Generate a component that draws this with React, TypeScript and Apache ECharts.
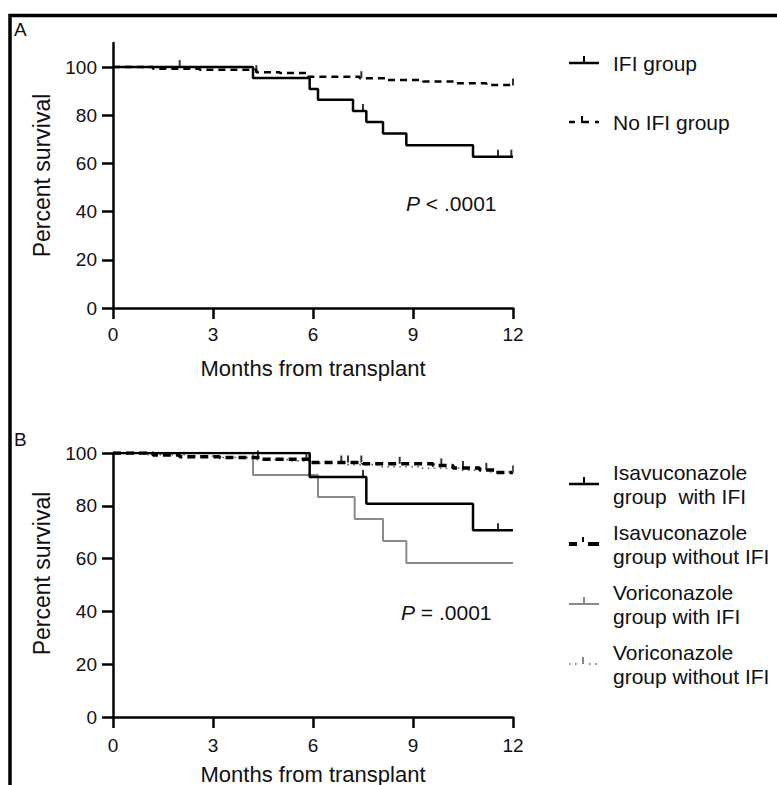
import React, { useEffect, useRef } from "react";
import * as echarts from "echarts";

// ---------- Data ----------
const monthTicks = [0, 3, 6, 9, 12];
const percentTicks = [0, 20, 40, 60, 80, 100];

// Panel A
const ifiA: number[][] = [
  [0, 100], [4.2, 95.5], [5.9, 90.9], [6.15, 86.4], [7.2, 81.8], [7.6, 77.2],
  [8.1, 72.4], [8.8, 67.6], [10.8, 62.8], [12, 62.8],
];
const noIfiA: number[][] = [
  [0, 100], [1.2, 99.3], [2.6, 98.9], [4.3, 97.9], [5.0, 97.5], [5.8, 96.0],
  [7.4, 95.4], [8.2, 94.6], [9.3, 94.0], [10.3, 93.3], [11.2, 92.6], [12, 92.4],
];
const ifiCensorA: number[][] = [[2.0, 100], [7.5, 81.8], [11.55, 62.8], [11.95, 62.8]];
const noIfiCensorA: number[][] = [[4.3, 97.9], [7.45, 95.4], [12, 92.4]];

// Panel B
const isaIfiB: number[][] = [[0, 100], [5.9, 90.9], [7.6, 80.8], [10.8, 70.7], [12, 70.7]];
const isaNoIfiB: number[][] = [
  [0, 100], [1.2, 99.2], [2.0, 98.6], [3.2, 98.3], [4.4, 97.6], [5.9, 96.4],
  [7.5, 95.9], [9.6, 95.3], [10.2, 94.3], [11.0, 93.6], [11.5, 92.6], [12, 92.6],
];
const voriIfiB: number[][] = [
  [0, 100], [4.2, 91.7], [6.15, 83.3], [7.25, 75.0], [8.1, 66.7], [8.8, 58.3], [12, 58.3],
];
const voriNoIfiB: number[][] = [
  [0, 100], [1.0, 99.4], [2.2, 98.8], [3.3, 98.3], [4.2, 97.5], [5.3, 97.0],
  [6.0, 96.2], [7.0, 95.6], [8.0, 94.8], [9.2, 94.2], [10.4, 93.5], [11.3, 92.8], [12, 92.4],
];
const isaIfiCensorB: number[][] = [[7.5, 90.9], [11.55, 70.7]];
const isaNoIfiCensorB: number[][] = [
  [4.35, 98.3], [5.8, 97.6], [6.85, 96.4], [7.05, 96.4], [7.45, 96.4],
  [8.6, 95.9], [9.85, 95.3], [10.5, 94.3], [11.2, 93.6], [12, 92.6],
];
const voriNoIfiCensorB: number[][] = [[12, 92.4]];

const legendA = ["IFI group", "No IFI group"];
const legendB = [
  ["Isavuconazole", "group  with IFI"],
  ["Isavuconazole", "group without IFI"],
  ["Voriconazole", "group with IFI"],
  ["Voriconazole", "group without IFI"],
];
const pTextA = "< .0001";
const pTextB = "= .0001";

// ---------- Styles ----------
const FONT = "'Liberation Sans', Arial, Helvetica, sans-serif";
const BLACK = "#000";
const GRAY = "#8a8a8a";
const DOT = "#666";
const TXT = "#111";

function xAxis(gridIndex: number, margin: number, nameGap: number) {
  return {
    type: "value",
    gridIndex,
    min: 0,
    max: 12,
    interval: 3,
    splitLine: { show: false },
    axisLine: { show: true, onZero: false, lineStyle: { color: BLACK, width: 2.5 } },
    axisTick: { show: true, length: 11, lineStyle: { color: BLACK, width: 2.5 } },
    axisLabel: {
      color: TXT, fontSize: 19, fontFamily: FONT, margin,
      customValues: monthTicks,
    },
    name: "Months from transplant",
    nameLocation: "middle",
    nameGap,
    nameTextStyle: { color: TXT, fontSize: 22, fontFamily: FONT },
  };
}

function yAxis(gridIndex: number, max: number, padding: number[]) {
  return {
    type: "value",
    gridIndex,
    min: 0,
    max,
    splitLine: { show: false },
    axisLine: { show: true, onZero: false, lineStyle: { color: BLACK, width: 2.5 } },
    axisTick: {
      show: true, length: 11, lineStyle: { color: BLACK, width: 2.5 },
      customValues: percentTicks,
    },
    axisLabel: {
      color: TXT, fontSize: 19, fontFamily: FONT, margin: 16,
      customValues: percentTicks,
    },
    name: "Percent survival",
    nameLocation: "middle",
    nameRotate: 90,
    nameGap: 60,
    nameTextStyle: { color: TXT, fontSize: 23, fontFamily: FONT, padding },
  };
}

function stepLine(name: string, data: number[][], idx: number, color: string, width: number, type: any, z = 2) {
  return {
    name,
    type: "line",
    xAxisIndex: idx,
    yAxisIndex: idx,
    data,
    step: "end",
    showSymbol: false,
    symbol: "none",
    silent: true,
    z,
    lineStyle: { color, width, type, cap: "butt" },
  };
}

function censor(name: string, data: number[][], idx: number, color: string, w = 2, z = 3) {
  return {
    name,
    type: "scatter",
    xAxisIndex: idx,
    yAxisIndex: idx,
    data,
    symbol: "rect",
    symbolSize: [w, 7],
    symbolOffset: [0, -3.5],
    silent: true,
    z,
    itemStyle: { color },
  };
}

function legendGraphics() {
  const g: any[] = [];
  const lx0 = 569, lx1 = 599, tx = 613, tickX = 584;
  const text = (x: number, y: number, t: string) => ({
    type: "text", x, y,
    style: { text: t, fill: TXT, font: `21px ${FONT}`, textVerticalAlign: "middle", textAlign: "left" },
  });
  const line = (x1: number, y1: number, x2: number, y2: number, stroke: string, lineWidth: number, lineDash?: number[]) => ({
    type: "line", shape: { x1, y1, x2, y2 },
    style: { stroke, lineWidth, lineDash: lineDash || null },
  });
  // Panel A legend
  const yA = [63, 122];
  g.push(line(lx0, yA[0], lx1, yA[0], BLACK, 2.5));
  g.push(line(tickX, yA[0] - 7, tickX, yA[0], BLACK, 2));
  g.push(text(tx, yA[0], legendA[0]));
  g.push(line(lx0, yA[1], 575, yA[1], BLACK, 2.5));
  g.push(line(582, yA[1] - 6, 582, yA[1] + 1, BLACK, 2));
  g.push(line(582, yA[1], 589, yA[1], BLACK, 2.5));
  g.push(line(595, yA[1], lx1, yA[1], BLACK, 2.5));
  g.push(text(tx, yA[1], legendA[1]));
  // Panel B legend
  const yB = [484, 544, 604, 664];
  g.push(line(lx0, yB[0], lx1, yB[0], BLACK, 2.5));
  g.push(line(tickX, yB[0] - 7, tickX, yB[0], BLACK, 2));
  g.push(line(lx0, yB[1], 577, yB[1], BLACK, 4));
  g.push(line(583, yB[1] - 7, 583, yB[1] - 2, BLACK, 2));
  g.push(line(588, yB[1], lx1, yB[1], BLACK, 4));
  g.push(line(lx0, yB[2], lx1, yB[2], GRAY, 2));
  g.push(line(tickX, yB[2] - 7, tickX, yB[2], GRAY, 2));
  g.push(line(lx0, yB[3], 578, yB[3], DOT, 1.6, [1.6, 4.4]));
  g.push(line(583, yB[3] - 7, 583, yB[3], DOT, 1.6));
  g.push(line(589, yB[3], lx1, yB[3], DOT, 1.6, [1.6, 4.4]));
  legendB.forEach((lines, i) => {
    g.push(text(tx, yB[i] - 12, lines[0]));
    g.push(text(tx, yB[i] + 12, lines[1]));
  });
  return g;
}

export default function App() {
  const ref = useRef<HTMLDivElement>(null);
  useEffect(() => {
    if (!ref.current) return;
    const chart = echarts.init(ref.current, null, { renderer: "svg" });
    const option: any = {
      animation: false,
      backgroundColor: "#fff",
      textStyle: { fontFamily: FONT },
      grid: [
        { left: 113, top: 43, width: 400, height: 265, containLabel: false, outerBoundsMode: "none" },
        { left: 113, top: 453, width: 400, height: 264, containLabel: false, outerBoundsMode: "none" },
      ],
      xAxis: [xAxis(0, 17, 49), xAxis(1, 19, 46)],
      yAxis: [yAxis(0, 110, [0, 0, 0, 0]), yAxis(1, 100, [0, 0, 0, 23])],
      series: [
        stepLine("No IFI group", noIfiA, 0, BLACK, 2.5, [7, 5], 2),
        stepLine("IFI group", ifiA, 0, BLACK, 2.5, "solid", 3),
        censor("IFI group censored", ifiCensorA, 0, BLACK),
        censor("No IFI group censored", noIfiCensorA, 0, BLACK),

        stepLine("Voriconazole group without IFI", voriNoIfiB, 1, DOT, 1.6, [1.6, 4.4], 2),
        stepLine("Voriconazole group with IFI", voriIfiB, 1, GRAY, 2, "solid", 2),
        stepLine("Isavuconazole group without IFI", isaNoIfiB, 1, BLACK, 3.5, [8, 5], 3),
        stepLine("Isavuconazole group with IFI", isaIfiB, 1, BLACK, 2.5, "solid", 4),
        censor("Isavuconazole with IFI censored", isaIfiCensorB, 1, BLACK),
        censor("Isavuconazole without IFI censored", isaNoIfiCensorB, 1, BLACK),
        censor("Voriconazole without IFI censored", voriNoIfiCensorB, 1, DOT, 1.6),
      ],
      graphic: [
        {
          type: "polyline",
          shape: { points: [[10, 785], [10, 15.5], [777, 15.5]] },
          style: { stroke: BLACK, lineWidth: 3.5, fill: null },
        },
        { type: "text", x: 14, y: 29, style: { text: "A", fill: TXT, font: `19px ${FONT}`, textVerticalAlign: "middle" } },
        { type: "text", x: 14, y: 439, style: { text: "B", fill: TXT, font: `19px ${FONT}`, textVerticalAlign: "middle" } },
        {
          type: "text", x: 406, y: 203,
          style: {
            text: `{i|P} ${pTextA}`, fill: TXT, font: `21px ${FONT}`, textVerticalAlign: "middle",
            rich: { i: { fontStyle: "italic", fontSize: 21, fontFamily: FONT, fill: TXT } },
          },
        },
        {
          type: "text", x: 401, y: 612,
          style: {
            text: `{i|P} ${pTextB}`, fill: TXT, font: `21px ${FONT}`, textVerticalAlign: "middle",
            rich: { i: { fontStyle: "italic", fontSize: 21, fontFamily: FONT, fill: TXT } },
          },
        },
        ...legendGraphics(),
      ],
    };
    chart.setOption(option);
    return () => chart.dispose();
  }, []);
  return (
    <div
      ref={ref}
      style={{ position: "absolute", left: 0, top: 0, width: 777, height: 785 }}
    />
  );
}
